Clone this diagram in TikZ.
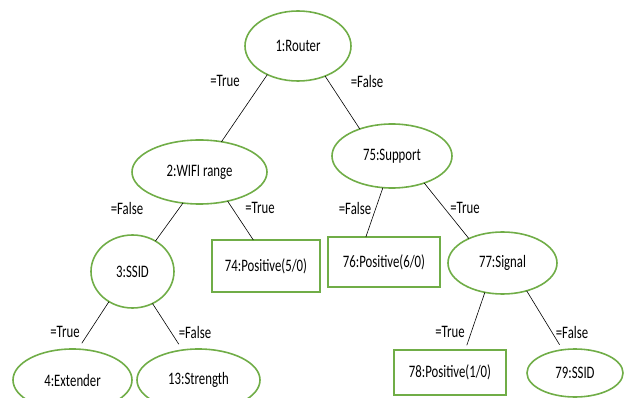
\documentclass[tikz,border=0pt]{standalone}
\usepackage{fontspec}
\usepackage{graphicx}
\setmainfont{Carlito}
\usetikzlibrary{shapes.geometric}
\definecolor{leafgreen}{RGB}{112,173,71}
\newcommand{\tall}[1]{\scalebox{0.73}[1]{#1}}

\begin{document}
\begin{tikzpicture}[x=1pt,y=-1pt,
  every node/.style={font=\fontsize{17.5}{20}\selectfont},
  test/.style={ellipse,draw=leafgreen,line width=1.6pt,inner sep=0pt,outer sep=0pt},
  leaf/.style={rectangle,draw=leafgreen,line width=1.6pt,inner sep=0pt,outer sep=0pt},
  branch/.style={draw,line width=0.6pt}]
\useasboundingbox (0,0) rectangle (624,398);
\clip (0,0) rectangle (624,398);
% tests and leaves
\node[test,minimum width=106pt,minimum height=70pt] (router) at (298,46) {\tall{1:Router}};
\node[test,minimum width=135pt,minimum height=64pt] (wifi) at (199.5,172) {\tall{2:WIFI range}};
\node[test,minimum width=120pt,minimum height=64pt] (support) at (392,156) {\tall{75:Support}};
\node[test,minimum width=83pt,minimum height=73pt] (ssid) at (132.5,271.5) {\tall{3:SSID}};
\node[leaf,minimum width=108pt,minimum height=52pt] (pos74) at (266,266) {\tall{74:Positive(5/0)}};
\node[leaf,minimum width=112pt,minimum height=50pt] (pos76) at (384,262) {\tall{76:Positive(6/0)}};
\node[test,minimum width=109pt,minimum height=62pt] (signal) at (502.5,263) {\tall{77:Signal}};
\node[test,minimum width=119pt,minimum height=62pt] (extender) at (72.5,380) {\tall{4:Extender}};
\node[test,minimum width=123pt,minimum height=62pt] (strength) at (198.5,380) {\tall{13:Strength}};
\node[leaf,minimum width=112pt,minimum height=45pt] (pos78) at (450,372.5) {\tall{78:Positive(1/0)}};
\node[test,minimum width=96pt,minimum height=48pt] (ssid79) at (575,373) {\tall{79:SSID}};
% branches
\draw[branch] (router.223) -- (wifi.54);
\draw[branch] (router.312) -- (support.140);
\draw[branch] (wifi.242) -- (ssid.53);
\draw[branch] (wifi.314) -- (pos74.116);
\draw[branch] (support.254) -- (pos76.126);
\draw[branch] (support.320) -- (signal.144);
\draw[branch,shorten >=7pt] (ssid.232) -- (extender.80);
\draw[branch,shorten >=7pt] (ssid.302) -- (strength.118);
\draw[branch,shorten >=5pt] (signal.239) -- (pos78.56);
\draw[branch,shorten >=6pt] (signal.311) -- (ssid79.118);
% branch labels
\node (rtrue) at (225,81) {\tall{=True}};
\node (rfalse) at (367,81) {\tall{=False}};
\node (wfalse) at (127,208) {\tall{=False}};
\node (wtrue) at (260,208) {\tall{=True}};
\node (sfalse) at (355,208) {\tall{=False}};
\node (strue) at (465,208) {\tall{=True}};
\node (ssidtrue) at (65,332) {\tall{=True}};
\node (ssidfalse) at (195,332) {\tall{=False}};
\node (sigtrue) at (450,332) {\tall{=True}};
\node (sigfalse) at (572,332) {\tall{=False}};
\end{tikzpicture}
\end{document}
